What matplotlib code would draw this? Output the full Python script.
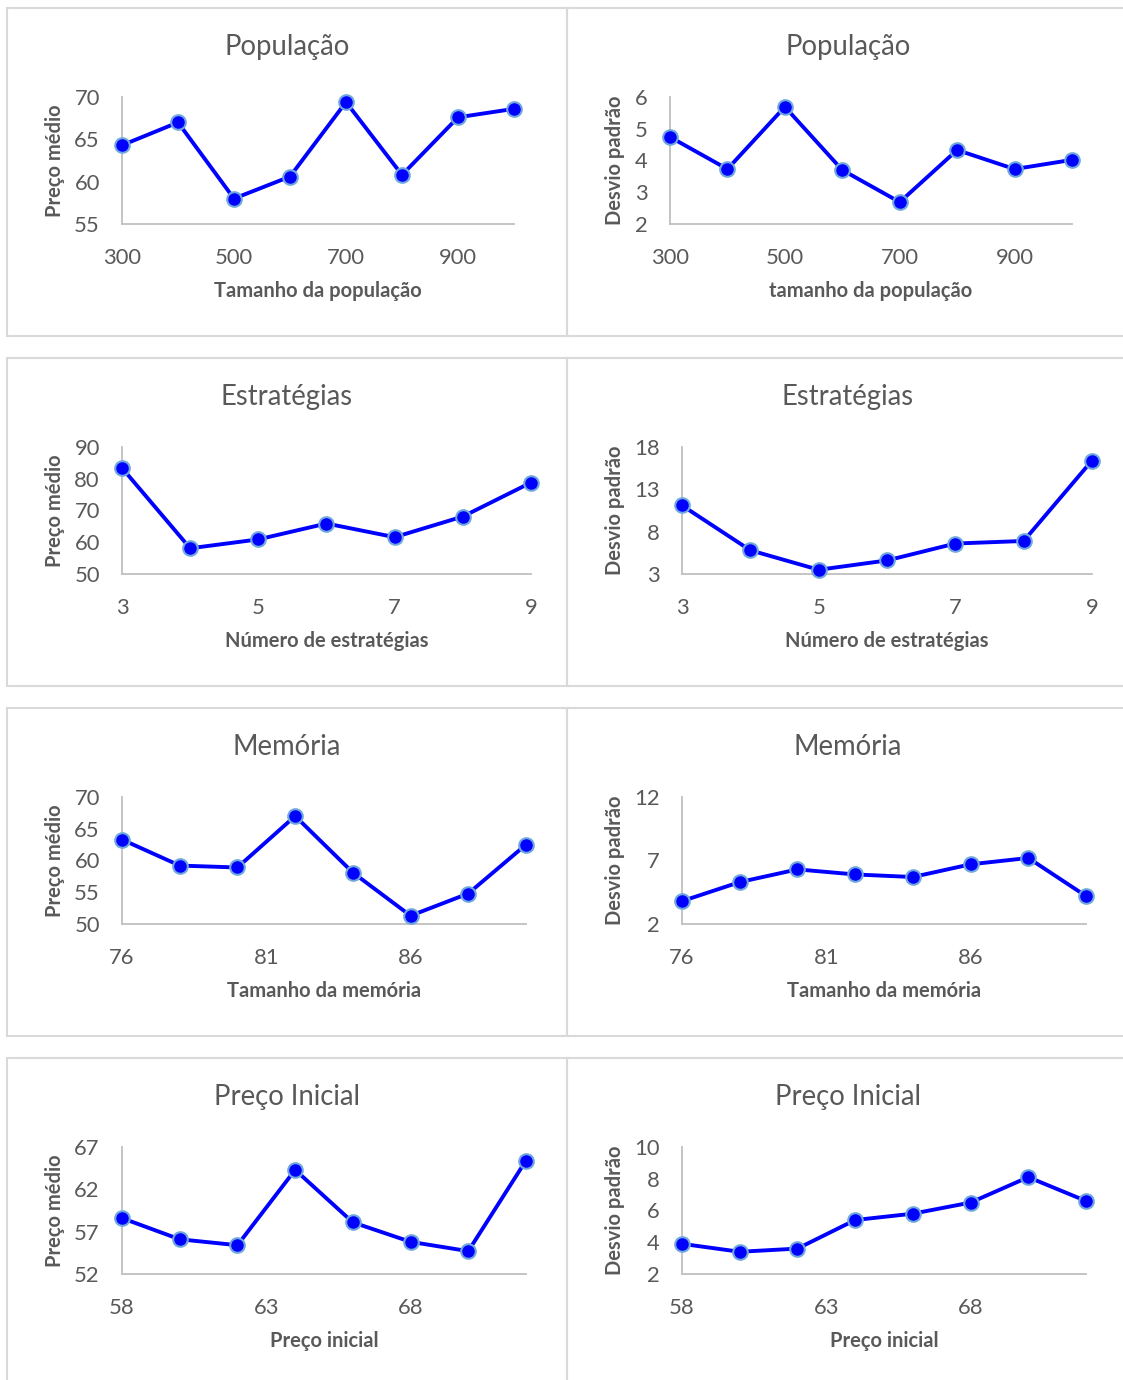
import matplotlib
matplotlib.use("Agg")
import matplotlib.pyplot as plt
from matplotlib.patches import Rectangle

plt.rcParams['font.family'] = ['Lato', 'DejaVu Sans']

# ---------------- data ----------------
pop_x = [300, 400, 500, 600, 700, 800, 900, 1000]
pop_preco = [64.3, 67.0, 58.0, 60.6, 69.4, 60.8, 67.6, 68.6]
pop_desvio = [4.74, 3.73, 5.69, 3.70, 2.69, 4.33, 3.73, 4.02]

estr_x = [3, 4, 5, 6, 7, 8, 9]
estr_preco = [83.4, 58.1, 60.9, 65.9, 61.6, 68.1, 78.8]
estr_desvio = [11.1, 5.8, 3.5, 4.6, 6.6, 6.9, 16.4]

mem_x = [76, 78, 80, 82, 84, 86, 88, 90]
mem_preco = [63.3, 59.2, 58.9, 67.0, 58.1, 51.3, 54.8, 62.5]
mem_desvio = [3.8, 5.3, 6.3, 5.9, 5.7, 6.7, 7.2, 4.2]

pi_x = [58, 60, 62, 64, 66, 68, 70, 72]
pi_preco = [58.6, 56.1, 55.4, 64.3, 58.1, 55.8, 54.7, 65.4]
pi_desvio = [3.9, 3.4, 3.6, 5.4, 5.8, 6.5, 8.1, 6.6]

titles = ["População", "Estratégias", "Memória", "Preço Inicial"]
xlabels_left = ["Tamanho da população", "Número de estratégias", "Tamanho da memória", "Preço inicial"]
xlabels_right = ["tamanho da população", "Número de estratégias", "Tamanho da memória", "Preço inicial"]
ylabel_left = "Preço médio"
ylabel_right = "Desvio padrão"

xticks = [[300, 500, 700, 900], [3, 5, 7, 9], [76, 81, 86], [58, 63, 68]]
xlims = [(300, 1000), (3, 9), (76, 90), (58, 72)]
yticks_left = [[55, 60, 65, 70], [50, 60, 70, 80, 90], [50, 55, 60, 65, 70], [52, 57, 62, 67]]
yticks_right = [[2, 3, 4, 5, 6], [3, 8, 13, 18], [2, 7, 12], [2, 4, 6, 8, 10]]

xs = [pop_x, estr_x, mem_x, pi_x]
ys_left = [pop_preco, estr_preco, mem_preco, pi_preco]
ys_right = [pop_desvio, estr_desvio, mem_desvio, pi_desvio]

# ---------------- layout ----------------
W, H = 1123, 1380
fig = plt.figure(figsize=(W / 100, H / 100), dpi=100)
fig.patch.set_facecolor("white")

def fx(px):
    return px / W

def fy(py):
    return 1 - py / H

TXT = "#595959"
BLUE = "#0000FF"
EDGE = "#6FA8DC"
FRAME = "#D9D9D9"

left_x = [(122, 514), (122, 531), (122, 526), (122, 526)]
right_x = [(670, 1072), (682, 1092), (682, 1086), (682, 1086)]

for r in range(4):
    off = 350 * r
    # panel frames
    for (x0, x1) in [(7, 567), (567, 1129)]:
        fig.patches.append(Rectangle((fx(x0), fy(336 + off)), fx(x1) - fx(x0), fy(8 + off) - fy(336 + off),
                                     transform=fig.transFigure, fill=False, edgecolor=FRAME, lw=1.5, zorder=0))
    for side in range(2):
        xr = left_x[r] if side == 0 else right_x[r]
        yv = ys_left[r] if side == 0 else ys_right[r]
        yt = yticks_left[r] if side == 0 else yticks_right[r]
        top, bot = 97 + off, 224 + off
        ax = fig.add_axes([fx(xr[0]), fy(bot), fx(xr[1]) - fx(xr[0]), fy(top) - fy(bot)])
        ax.plot(xs[r], yv, color=BLUE, lw=2.8, marker='o', markersize=10.5,
                markerfacecolor=BLUE, markeredgecolor=EDGE, markeredgewidth=1.5,
                clip_on=False, zorder=3)
        ax.set_xlim(*xlims[r])
        ax.set_ylim(yt[0], yt[-1])
        ax.set_xticks(xticks[r])
        ax.set_yticks(yt)
        ax.set_facecolor("none")
        for s in ["top", "right"]:
            ax.spines[s].set_visible(False)
        for s in ["left", "bottom"]:
            ax.spines[s].set_color("#BFBFBF")
            ax.spines[s].set_linewidth(1.3)
        ax.tick_params(axis='both', length=0, labelsize=15.8, labelcolor=TXT)
        ax.tick_params(axis='x', pad=17)
        ax.tick_params(axis='y', pad=16)

        cx = (xr[0] + xr[1]) / 2
        fig.text(fx(cx), fy(291 + off), (xlabels_left if side == 0 else xlabels_right)[r],
                 ha='center', va='center', fontsize=14.5, fontweight='bold', color=TXT)
        fig.text(fx(55 if side == 0 else 615), fy((top + bot) / 2),
                 ylabel_left if side == 0 else ylabel_right,
                 ha='center', va='center', rotation=90, fontsize=14.5, fontweight='bold', color=TXT)
        pcx = 287 if side == 0 else 848
        fig.text(fx(pcx), fy(47 + off), titles[r], ha='center', va='center',
                 fontsize=19.8, color=TXT)

fig.savefig("out.png", dpi=100, facecolor="white")
